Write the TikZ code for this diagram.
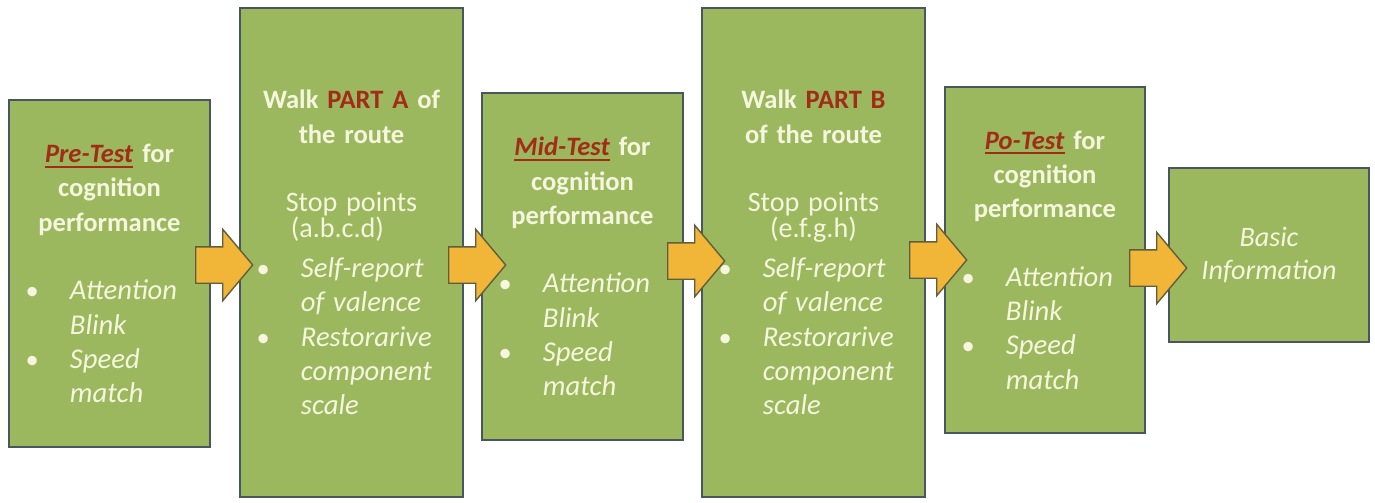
\documentclass[tikz,border=0pt]{standalone}
\usepackage{fontspec}
\setmainfont{Carlito}
\usepackage{tikz}
\usetikzlibrary{shapes.arrows}

\definecolor{stagegreen}{RGB}{155,184,94}
\definecolor{stageedge}{RGB}{72,86,96}
\definecolor{arrowfill}{RGB}{241,182,56}
\definecolor{arrowedge}{RGB}{96,94,62}
\definecolor{cream}{RGB}{246,246,222}
\definecolor{partred}{RGB}{162,44,24}

\setlength{\parindent}{0pt}
\newcommand{\testname}[1]{\textcolor{partred}{\setbox0\hbox{\textit{#1}}\rlap{\rule[-2.8pt]{\wd0}{1.1pt}}\box0}}
\newcommand{\routepart}[1]{\textcolor{partred}{#1}}
\newcommand{\ctr}[1]{\makebox[\hsize]{#1}}
\newcommand{\itm}[1]{{\fontsize{16.3}{19.5}\selectfont\itshape #1}}
\newcommand{\bul}[1]{\hspace*{9.4pt}\makebox[25.3pt][l]{\textbullet}\itm{#1}}
\newcommand{\cont}[1]{\hspace*{34.7pt}\itm{#1}}
\newcommand{\plain}[1]{{\fontsize{16}{19.5}\selectfont #1}}

\begin{document}
\begin{tikzpicture}[
    stage/.style={draw=stageedge, line width=1.1pt, fill=stagegreen, inner sep=0pt},
    words/.style={text=cream, align=left, inner sep=0pt, font=\fontsize{15.1}{19.5}\selectfont},
    bigarrow/.style={single arrow, draw=arrowedge, line width=0.8pt, fill=arrowfill,
      inner xsep=0pt, inner ysep=0.35cm, minimum height=1.14cm, minimum width=1.40cm,
      single arrow head extend=0.35cm, single arrow tip angle=100, anchor=tail}]
  \useasboundingbox (0,0) rectangle (27.5,-10.04);

  \node[stage, minimum width=4.02cm, minimum height=6.94cm] (pre) at (2.19,-5.47) {};
  \node[stage, minimum width=4.46cm, minimum height=9.78cm] (partA) at (7.03,-5.05) {};
  \node[stage, minimum width=4.02cm, minimum height=6.94cm] (mid) at (11.65,-5.33) {};
  \node[stage, minimum width=4.46cm, minimum height=9.78cm] (partB) at (16.27,-5.05) {};
  \node[stage, minimum width=4.00cm, minimum height=6.92cm] (post) at (20.90,-5.20) {};
  \node[stage, minimum width=4.00cm, minimum height=3.48cm] (info) at (25.38,-5.10) {};

  \node[words, text width=4.02cm] (preTxt) at (pre.center) {%
    \ctr{\textbf{\testname{Pre-Test} for}}\\
    \ctr{\textbf{cognition}}\\
    \ctr{\textbf{performance}}\\[19.5pt]
    \bul{Attention}\\
    \cont{Blink}\\
    \bul{Speed}\\
    \cont{match}};
  \node[words, text width=4.46cm] (partATxt) at (partA.center) {%
    \ctr{\textbf{Walk \routepart{PART A} of}}\\
    \ctr{\textbf{the route}}\\[19.5pt]
    \ctr{\plain{Stop points}}\\[-4.5pt]
    \ctr{\plain{(a.b.c.d)}\hspace*{16pt}}\\[3pt]
    \bul{Self-report}\\
    \cont{of valence}\\
    \bul{Restorarive}\\
    \cont{component}\\
    \cont{scale}};
  \node[words, text width=4.02cm] (midTxt) at (mid.center) {%
    \ctr{\textbf{\testname{Mid-Test} for}}\\
    \ctr{\textbf{cognition}}\\
    \ctr{\textbf{performance}}\\[19.5pt]
    \bul{Attention}\\
    \cont{Blink}\\
    \bul{Speed}\\
    \cont{match}};
  \node[words, text width=4.46cm] (partBTxt) at (partB.center) {%
    \ctr{\textbf{Walk \routepart{PART B}}}\\
    \ctr{\textbf{of the route}}\\[19.5pt]
    \ctr{\plain{Stop points}}\\[-4.5pt]
    \ctr{\plain{(e.f.g.h)}}\\[3pt]
    \bul{Self-report}\\
    \cont{of valence}\\
    \bul{Restorarive}\\
    \cont{component}\\
    \cont{scale}};
  \node[words, text width=4.00cm] (postTxt) at (post.center) {%
    \ctr{\textbf{\testname{Po-Test} for}}\\
    \ctr{\textbf{cognition}}\\
    \ctr{\textbf{performance}}\\[19.5pt]
    \bul{Attention}\\
    \cont{Blink}\\
    \bul{Speed}\\
    \cont{match}};
  \node[words, align=center, font=\fontsize{16}{19}\selectfont] (infoTxt) at (info.center) {\textit{Basic}\\ \textit{Information}};

  % block arrows between the stages
  \node[bigarrow] (ar1) at (3.90,-5.30) {};
  \node[bigarrow] (ar2) at (8.96,-5.30) {};
  \node[bigarrow] (ar3) at (13.34,-5.22) {};
  \node[bigarrow] (ar4) at (18.18,-5.20) {};
  \node[bigarrow] (ar5) at (22.58,-5.36) {};
\end{tikzpicture}
\end{document}
